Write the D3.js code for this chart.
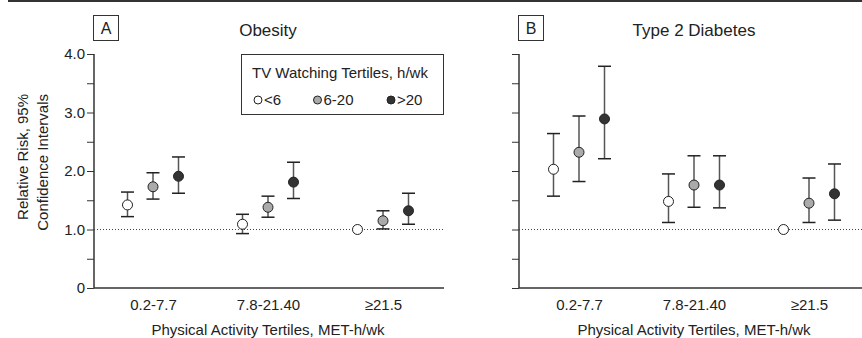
<!DOCTYPE html>
<html>
<head>
<meta charset="utf-8">
<script src="https://cdn.jsdelivr.net/npm/d3@7"></script>
<style>
  body { margin: 0; background: #fff; }
  text { font-family: "Liberation Sans", Arial, sans-serif; fill: #222; }
</style>
</head>
<body>
<svg id="chart" width="862" height="338"></svg>
<script>
// categories and series
const activity = ["0.2-7.7", "7.8-21.40", "\u226521.5"];
const tvGroups = ["<6", "6-20", ">20"];
const tvFill = ["#ffffff", "#aaaaaa", "#333333"];
const yTicks = [0, 0.5, 1, 1.5, 2, 2.5, 3, 3.5, 4];

// relative risk [estimate, lower, upper] per tv group, per activity tertile
const obesityRR = [
  [1.42, 1.22, 1.64], [1.73, 1.52, 1.97], [1.91, 1.62, 2.24],
  [1.09, 0.93, 1.26], [1.38, 1.21, 1.57], [1.81, 1.53, 2.15],
  [1.00, null, null], [1.15, 1.01, 1.32], [1.32, 1.09, 1.62]
];
const diabetesRR = [
  [2.03, 1.57, 2.64], [2.32, 1.82, 2.94], [2.89, 2.21, 3.79],
  [1.48, 1.12, 1.95], [1.76, 1.38, 2.26], [1.76, 1.37, 2.26],
  [1.00, null, null], [1.45, 1.12, 1.88], [1.61, 1.16, 2.12]
];

const svg = d3.select("#chart");

// rule across the top
svg.append("rect").attr("x", 8).attr("y", 0).attr("width", 854).attr("height", 2).attr("fill", "#333");

const y = d3.scaleLinear().domain([0, 4]).range([288, 54]);
const inner = d3.scalePoint().domain(tvGroups).range([-25.5, 25.5]);

function drawPanel(opt) {
  const g = svg.append("g");
  const x = d3.scalePoint().domain(activity).range(opt.range);

  // y axis
  const yAxis = d3.axisLeft(y).tickValues(yTicks).tickSize(7).tickSizeOuter(0).tickPadding(2)
    .tickFormat(d => !opt.labels || d % 1 !== 0 ? "" : (d === 0 ? "0" : d.toFixed(1)));
  const ya = g.append("g").attr("transform", "translate(" + opt.x0 + ",0)").call(yAxis);
  ya.select(".domain").remove();
  ya.selectAll("line").attr("stroke", "#333");
  ya.selectAll("text").style("font-size", "15px").attr("fill", "#222");
  g.append("line").attr("x1", opt.x0).attr("x2", opt.x0).attr("y1", y(4)).attr("y2", y(0))
    .attr("stroke", "#333").attr("stroke-width", 1.5);

  // x axis
  g.append("line").attr("x1", opt.x0).attr("x2", opt.x1).attr("y1", y(0)).attr("y2", y(0))
    .attr("stroke", "#333").attr("stroke-width", 1.5);
  const xa = g.append("g").attr("transform", "translate(0," + y(0) + ")")
    .call(d3.axisBottom(x).tickSize(0).tickPadding(11));
  xa.select(".domain").remove();
  xa.selectAll("text").style("font-size", "15px").attr("fill", "#222");

  g.append("text").attr("x", x(activity[1])).attr("y", 335).attr("text-anchor", "middle")
    .style("font-size", "15px").text("Physical Activity Tertiles, MET-h/wk");

  // reference line at 1.0
  g.append("line").attr("x1", opt.x0).attr("x2", opt.x1).attr("y1", y(1)).attr("y2", y(1))
    .attr("stroke", "#444").attr("stroke-dasharray", "1,2");

  // panel letter and title
  g.append("rect").attr("x", opt.x0 - 0.5).attr("y", 15.5).attr("width", 25).attr("height", 25)
    .attr("fill", "none").attr("stroke", "#333");
  g.append("text").attr("x", opt.x0 + 12).attr("y", 34).attr("text-anchor", "middle")
    .style("font-size", "16px").text(opt.letter);
  g.append("text").attr("x", x(activity[1])).attr("y", 36).attr("text-anchor", "middle")
    .style("font-size", "17px").text(opt.title);

  // points and error bars
  const pts = opt.data.map((d, i) => ({
    cat: activity[Math.floor(i / 3)], tv: tvGroups[i % 3], fill: tvFill[i % 3],
    rr: d[0], lo: d[1], hi: d[2]
  }));
  const px = d => x(d.cat) + inner(d.tv);
  const bars = pts.filter(d => d.lo !== null);
  g.selectAll(null).data(bars).enter().append("line")
    .attr("x1", px).attr("x2", px).attr("y1", d => y(d.lo)).attr("y2", d => y(d.hi))
    .attr("stroke", "#555").attr("stroke-width", 1.5);
  ["lo", "hi"].forEach(k => {
    g.selectAll(null).data(bars).enter().append("line")
      .attr("x1", d => px(d) - 6.5).attr("x2", d => px(d) + 6.5)
      .attr("y1", d => y(d[k])).attr("y2", d => y(d[k]))
      .attr("stroke", "#222").attr("stroke-width", 1.5);
  });
  g.selectAll(null).data(pts).enter().append("circle")
    .attr("cx", px).attr("cy", d => y(d.rr)).attr("r", 5)
    .attr("fill", d => d.fill).attr("stroke", "#222").attr("stroke-width", 1);
}

drawPanel({x0: 94, x1: 444, range: [153, 383], labels: true, letter: "A", title: "Obesity", data: obesityRR});
drawPanel({x0: 519, x1: 862, range: [579, 809], labels: false, letter: "B", title: "Type 2 Diabetes", data: diabetesRR});

// y axis title
const yt = svg.append("text").attr("transform", "translate(0,94) rotate(-90)")
  .attr("text-anchor", "end").style("font-size", "15px");
yt.append("tspan").attr("x", 0).attr("y", 28).text("Relative Risk, 95%");
yt.append("tspan").attr("x", 0).attr("y", 48).text("Confidence Intervals");

// legend
const lg = svg.append("g");
lg.append("rect").attr("x", 241.5).attr("y", 54.5).attr("width", 202).attr("height", 60)
  .attr("fill", "#fff").attr("stroke", "#333");
lg.append("text").attr("x", 252).attr("y", 78).style("font-size", "15px").text("TV Watching Tertiles, h/wk");
const legX = [258, 317.5, 391];
tvGroups.forEach((t, i) => {
  lg.append("circle").attr("cx", legX[i]).attr("cy", 100).attr("r", 4)
    .attr("fill", tvFill[i]).attr("stroke", "#222");
  lg.append("text").attr("x", legX[i] + 6).attr("y", 105).style("font-size", "15px").text(t);
});
</script>
</body>
</html>
